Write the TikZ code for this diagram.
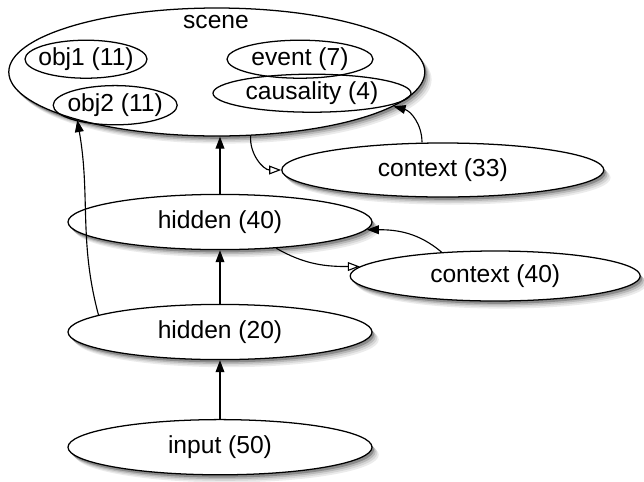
\documentclass[tikz,border=0pt]{standalone}
\usepackage{fontspec}
\setmainfont{Liberation Sans}
\usetikzlibrary{shapes.geometric,arrows.meta}
\begin{document}
\begin{tikzpicture}[
    unit/.style={ellipse, draw, line width=0.9pt, fill=white, inner sep=-1cm,
      font=\fontsize{17.5}{20}\selectfont},
    part/.style={ellipse, draw, line width=0.9pt, inner sep=-1cm, font=\fontsize{17.5}{20}\selectfont},
    link/.style={line width=0.8pt, -{Triangle[length=3mm,width=2.2mm]}},
    copy/.style={line width=0.8pt, -{Triangle[open,length=3mm,width=2.2mm]}}
  ]
  \useasboundingbox (0,0) rectangle (16.1,-12.025);

  % soft shadows, drawn first so the ellipses cover them
  \foreach \dx/\dy/\c in {0.17/-0.19/8, 0.13/-0.15/16, 0.09/-0.11/28, 0.05/-0.07/45} {
    \fill[black!\c] (5.42+\dx,-1.8+\dy) ellipse [x radius=5.2, y radius=1.6];
    \fill[black!\c] (11.07+\dx,-4.25+\dy) ellipse [x radius=4.025, y radius=0.675];
    \fill[black!\c] (5.5+\dx,-5.55+\dy) ellipse [x radius=3.8, y radius=0.69];
    \fill[black!\c] (12.38+\dx,-6.9+\dy) ellipse [x radius=3.625, y radius=0.625];
    \fill[black!\c] (5.5+\dx,-8.3+\dy) ellipse [x radius=3.8, y radius=0.69];
    \fill[black!\c] (5.5+\dx,-11.18+\dy) ellipse [x radius=3.8, y radius=0.69];
  }

  % the scene group with its parts
  \node[unit, minimum width=10.4cm, minimum height=3.2cm] (scene) at (5.42,-1.8) {};
  \node[font=\fontsize{17.5}{20}\selectfont] (scenelabel) at (5.4,-0.55) {scene};
  \node[part, minimum width=3.05cm, minimum height=0.95cm] (obj1) at (2.15,-1.48) {obj1 (11)};
  \node[part, minimum width=3.65cm, minimum height=0.95cm] (event) at (7.5,-1.48) {event (7)};
  \node[part, minimum width=3.1cm, minimum height=0.98cm] (obj2) at (2.88,-2.63) {obj2 (11)};
  \node[part, minimum width=4.95cm, minimum height=0.95cm] (causality) at (7.8,-2.33) {causality (4)};

  % the layers
  \node[unit, minimum width=8.05cm, minimum height=1.35cm] (context33) at (11.07,-4.25) {context (33)};
  \node[unit, minimum width=7.6cm, minimum height=1.38cm] (hidden40) at (5.5,-5.55) {hidden (40)};
  \node[unit, minimum width=7.25cm, minimum height=1.25cm] (context40) at (12.38,-6.9) {context (40)};
  \node[unit, minimum width=7.6cm, minimum height=1.38cm] (hidden20) at (5.5,-8.3) {hidden (20)};
  \node[unit, minimum width=7.6cm, minimum height=1.38cm] (input) at (5.5,-11.18) {input (50)};

  % connections
  \draw[link] (input) -- (hidden20);
  \draw[link] (hidden20) -- (hidden40);
  \draw[link] (hidden40.north) -- (hidden40.north |- scene.south);
  \draw[link] (hidden20.172) to[out=105, in=-80] (scene.199);
  \draw[copy] (scene.-62) to[out=-95, in=180] (context33.west);
  \draw[link] ([xshift=-0.52cm]context33.north) to[out=90, in=-15] (scene.-11);
  \draw[copy] (hidden40.-25) to[out=-30, in=180] (context40.176);
  \draw[link] (context40.156) to[out=140, in=0] (hidden40.-3);
\end{tikzpicture}
\end{document}
